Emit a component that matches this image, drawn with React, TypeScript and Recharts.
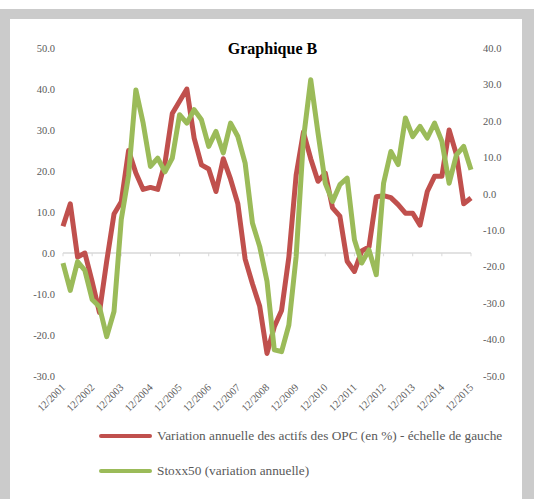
import React from 'react'
import { LineChart, Line, XAxis, YAxis, ReferenceLine } from 'recharts'

const years = ['2001', '2002', '2003', '2004', '2005', '2006', '2007', '2008', '2009', '2010', '2011', '2012', '2013', '2014', '2015']
const months = ['03', '06', '09', '12']

// quarterly categories, 12/2001 .. 12/2015
const quarters: string[] = ['12/2001']
years.slice(1).forEach(y => months.forEach(m => quarters.push(`${m}/${y}`)))

const opcValues = [
  6.5, 12, -1, 0, -7, -14.5, -2, 9.5, 12.5, 25,
  19.5, 15.5, 16, 15.5, 22, 34, 37, 40, 28, 21.5,
  20.5, 15, 23, 18, 12, -1.5, -7.5, -13, -24.5, -18,
  -14, -1, 19, 29.5, 23, 17.5, 19.5, 11, 9, -2,
  -4.5, 0.5, 1.5, 13.7, 14, 13.5, 11.8, 9.7, 9.7, 6.8,
  15, 18.7, 18.7, 30, 24, 12, 13.4,
]

const stoxxValues = [
  -19, -26.5, -18.6, -21, -29, -31, -39.2, -32.3, -7, 5,
  28.5, 19.4, 7.5, 9.8, 6, 9.8, 21.7, 19.4, 23.1, 20.3,
  13, 17.1, 11.2, 19.4, 15.7, 8.4, -8, -14.5, -24, -42.8,
  -43.3, -36, -17.2, 15, 31.3, 16.7, 2.9, -2.1, 2.5, 4.3,
  -12.6, -19, -15.4, -22.2, 2.9, 11.6, 8, 20.8, 15.7, 18.5,
  15.3, 19.4, 14.4, 2.9, 10.7, 13, 6.6,
]

const leftTicks = [-30, -20, -10, 0, 10, 20, 30, 40, 50]
const rightTicks = [-50, -40, -30, -20, -10, 0, 10, 20, 30, 40]

const seriesNames = {
  opc: 'Variation annuelle des actifs des OPC (en %) - échelle de gauche',
  stoxx: 'Stoxx50 (variation annuelle)',
}

const data = quarters.map((q, i) => ({ date: q, opc: opcValues[i], stoxx: stoxxValues[i] }))

const RED = '#c0504d'
const GREEN = '#9bbb59'
const GREY_TXT = '#595959'
const SERIF = '"Liberation Serif", "Times New Roman", serif'

const XTick = ({ x, y, payload }: any) => {
  const tx = x + 3
  const ty = y + 10
  return (
    <text x={tx} y={ty} textAnchor="end" fill={GREY_TXT} fontSize={10.5} fontFamily={SERIF}
      transform={`rotate(-45 ${tx} ${ty})`}>
      {payload.value}
    </text>
  )
}

const fmt = (v: number) => v.toFixed(1)

const LegendRow = ({ color, label, top }: { color: string; label: string; top: number }) => (
  <div style={{ position: 'absolute', left: 99, top, display: 'flex', alignItems: 'center' }}>
    <div style={{ width: 53, height: 4, background: color, borderRadius: 2 }} />
    <span style={{ marginLeft: 5, fontSize: 13.3, color: GREY_TXT, fontFamily: SERIF, whiteSpace: 'nowrap' }}>{label}</span>
  </div>
)

export default function App() {
  const yearTicks = quarters.filter(q => q.startsWith('12/'))
  return (
    <div style={{ position: 'absolute', left: 0, top: 0, width: 534, height: 499, background: '#fff', overflow: 'hidden' }}>
      <div style={{ position: 'absolute', left: 0, top: 9, width: 534, height: 490, background: '#cbcbcb' }} />
      <div style={{ position: 'absolute', left: 10, top: 19, width: 512, height: 480, background: '#fff' }} />
      <div style={{
        position: 'absolute', left: 0, width: 545, top: 40, textAlign: 'center',
        fontFamily: SERIF, fontWeight: 'bold', fontSize: 16, color: '#000',
      }}>Graphique B</div>
      <div style={{ position: 'absolute', left: 0, top: 0 }}>
        <LineChart width={534} height={499} data={data} margin={{ top: 48, right: 0, left: 0, bottom: 73 }}>
          <XAxis dataKey="date" interval={3} axisLine={false} tickLine={false} tickSize={0}
            tick={<XTick />} height={50} />
          <YAxis yAxisId="left" domain={[-30, 50]} ticks={leftTicks} width={63}
            axisLine={false} tickLine={false} tickSize={0} tickMargin={8} tickFormatter={fmt}
            tick={{ fill: GREY_TXT, fontSize: 10.5, fontFamily: SERIF }} />
          <YAxis yAxisId="right" orientation="right" domain={[-50, 40]} ticks={rightTicks} width={63}
            axisLine={false} tickLine={false} tickSize={0} tickMargin={12} tickFormatter={fmt}
            tick={{ fill: GREY_TXT, fontSize: 10.5, fontFamily: SERIF, textAnchor: 'start' }} />
          <ReferenceLine yAxisId="left" y={0} stroke="#d9d9d9" strokeWidth={1.5} />
          {yearTicks.map(q => (
            <ReferenceLine key={q} yAxisId="left" stroke="#d9d9d9" strokeWidth={1}
              segment={[{ x: q, y: 0 }, { x: q, y: -0.8 }]} />
          ))}
          <Line yAxisId="left" type="linear" dataKey="opc" name={seriesNames.opc} stroke={RED}
            strokeWidth={5} dot={false} strokeLinejoin="round" isAnimationActive={false} />
          <Line yAxisId="right" type="linear" dataKey="stoxx" name={seriesNames.stoxx} stroke={GREEN}
            strokeWidth={5} dot={false} strokeLinejoin="round" isAnimationActive={false} />
        </LineChart>
      </div>
      <LegendRow color={RED} label={seriesNames.opc} top={428} />
      <LegendRow color={GREEN} label={seriesNames.stoxx} top={463} />
    </div>
  )
}
